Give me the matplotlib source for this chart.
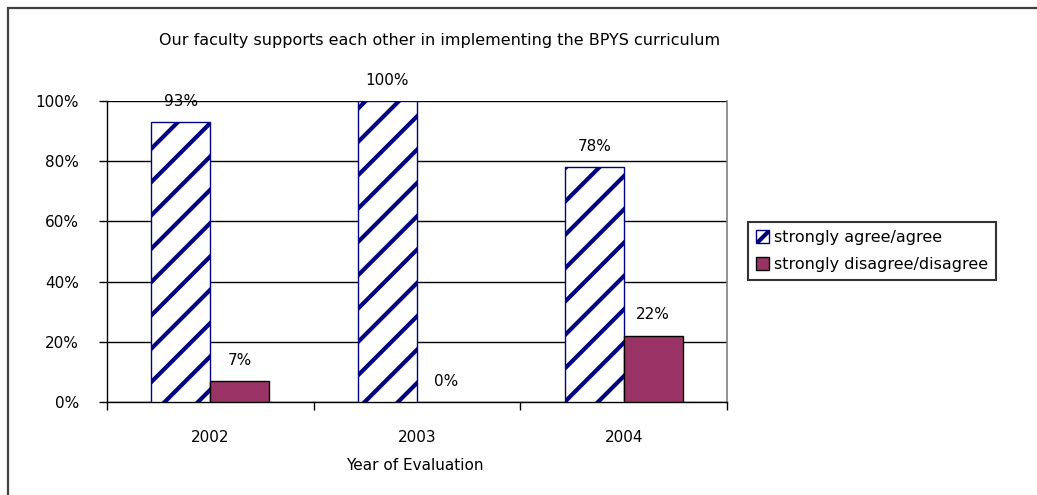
import matplotlib
matplotlib.use('Agg')
import matplotlib.pyplot as plt
from matplotlib.patches import Rectangle
import numpy as np

years = ['2002', '2003', '2004']
agree = [93, 100, 78]
disagree = [7, 0, 22]
series_names = ['strongly agree/agree', 'strongly disagree/disagree']
title = 'Our faculty supports each other in implementing the BPYS curriculum'

plt.rcParams['hatch.linewidth'] = 3.0
plt.rcParams['hatch.color'] = '#000080'

W, H = 1037, 495
fig = plt.figure(figsize=(W / 100, H / 100), dpi=100)
fig.patch.set_facecolor('white')

# outer chart border (only top and left are visible in the crop)
fig.patches.append(Rectangle((8 / W, -0.1), 1.2, 1 - 8 / H + 0.1, transform=fig.transFigure,
                             fill=False, edgecolor='#404040', linewidth=1.6))

ax = fig.add_axes([107 / W, 1 - 402 / H, 620 / W, 301 / H])
x = np.arange(len(years))
w = 0.285
b1 = ax.bar(x - w / 2, agree, w, color='white', edgecolor='#000080', hatch='/', linewidth=1.0,
            label=series_names[0], zorder=3)
b2 = ax.bar(x + w / 2, disagree, w, color='#993366', edgecolor='black', linewidth=1.0,
            label=series_names[1], zorder=3)
for r, v in zip(b2, disagree):
    if v == 0:
        r.set_linewidth(0)

for rects, vals in [(b1, agree), (b2, disagree)]:
    for r, v in zip(rects, vals):
        ax.annotate(f'{v}%', (r.get_x() + r.get_width() / 2, v), xytext=(0, 15),
                    textcoords='offset points', ha='center', va='center', fontsize=11)

ax.set_xlim(-0.5, 2.5)
ax.set_ylim(0, 100)
ax.set_yticks([0, 20, 40, 60, 80, 100])
ax.set_yticklabels([f'{v}%' for v in [0, 20, 40, 60, 80, 100]], fontsize=11)
ax.yaxis.grid(True, color='black', linewidth=1.0)
ax.set_axisbelow(True)

ax.set_xticks([-0.5, 0.5, 1.5, 2.5])
ax.set_xticklabels([])
ax.set_xticks(x, minor=True)
ax.set_xticklabels(years, minor=True, fontsize=11)
ax.tick_params(axis='x', which='major', direction='out', length=6, width=1)
ax.tick_params(axis='x', which='minor', length=0, pad=20)
ax.tick_params(axis='y', direction='out', length=6, width=1, pad=14)

ax.spines['top'].set_visible(False)
ax.spines['right'].set_color('#808080')
ax.spines['right'].set_linewidth(1.2)
ax.spines['left'].set_linewidth(1.0)
ax.spines['bottom'].set_linewidth(1.0)

fig.text(440 / W, 1 - 40 / H, title, ha='center', va='center', fontsize=11.5)
fig.text(415 / W, 1 - 465 / H, 'Year of Evaluation', ha='center', va='center', fontsize=11)

leg = fig.legend(handles=[b1, b2], labels=series_names, loc='upper left',
                 bbox_to_anchor=(748 / W, 1 - 222 / H), fontsize=11.5, frameon=True,
                 fancybox=False, handlelength=0.8, handleheight=0.8, handletextpad=0.3,
                 borderpad=0.5, labelspacing=0.75, borderaxespad=0)
leg.get_frame().set_edgecolor('black')
leg.get_frame().set_linewidth(1.5)

fig.savefig('out.png', dpi=100)
